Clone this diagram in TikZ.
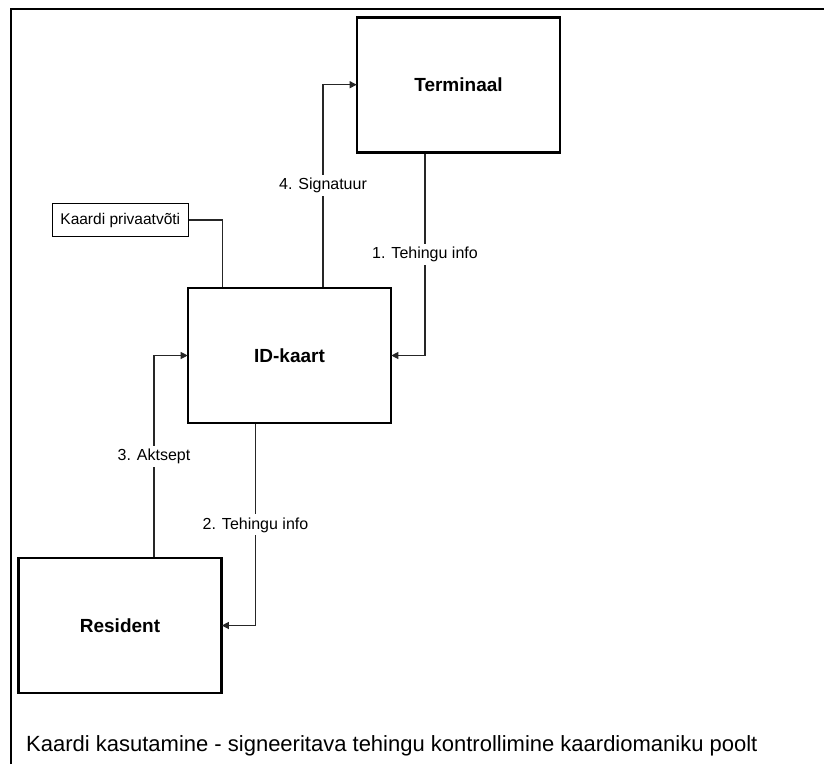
\documentclass[tikz,border=0pt]{standalone}
\usepackage{fontspec}
\setmainfont{Liberation Sans}
\usetikzlibrary{arrows.meta}
\begin{document}
\begin{tikzpicture}[x=1pt,y=-1pt,
  entity/.style={draw,line width=2.6pt,minimum width=203pt,minimum height=135pt,inner sep=0pt,
    font=\fontsize{19}{22}\selectfont\bfseries},
  store/.style={draw,line width=0.9pt,minimum width=136pt,minimum height=33pt,inner sep=0pt,
    font=\fontsize{15.5}{18}\selectfont},
  conn/.style={line width=1.1pt,draw=black!85},
  flow/.style={conn,-{Triangle[length=7pt,width=7pt]},shorten >=-1pt},
  lbl/.style={fill=white,inner sep=3pt,font=\fontsize{16}{19}\selectfont}]
\useasboundingbox (0,0) rectangle (824,764);
% open frame (top and left edges)
\draw[line width=2pt] (11,764) -- (11,9) -- (824,9);

% entities
\node[entity] (term) at (458.5,84.7) {Terminaal};
\node[entity] (id)   at (289.5,355.5) {ID-kaart};
\node[entity] (res)  at (120,625.5) {Resident};
\node[store]  (key)  at (120.3,220) {Kaardi privaatvõti};

% data flows
\draw[conn] (key.east) -| ([xshift=-67pt]id.north);
\draw[flow] ([xshift=33.5pt]id.north) |- node[lbl,pos=0.25] (l4) {4. Signatuur} (term.west);
\draw[flow] ([xshift=-33.5pt]term.south) |- node[lbl,pos=0.25] (l1) {1. Tehingu info} (id.east);
\draw[flow] ([xshift=34pt]res.north) |- node[lbl,pos=0.25] (l3) {3. Aktsept} (id.west);
\draw[flow] ([xshift=-34pt]id.south) |- node[lbl,pos=0.25] (l2) {2. Tehingu info} (res.east);

% caption
\node[anchor=west,inner sep=0pt,font=\fontsize{22}{26}\selectfont] (cap) at (26,745.6)
  {Kaardi kasutamine - signeeritava tehingu kontrollimine kaardiomaniku poolt};
\end{tikzpicture}
\end{document}
